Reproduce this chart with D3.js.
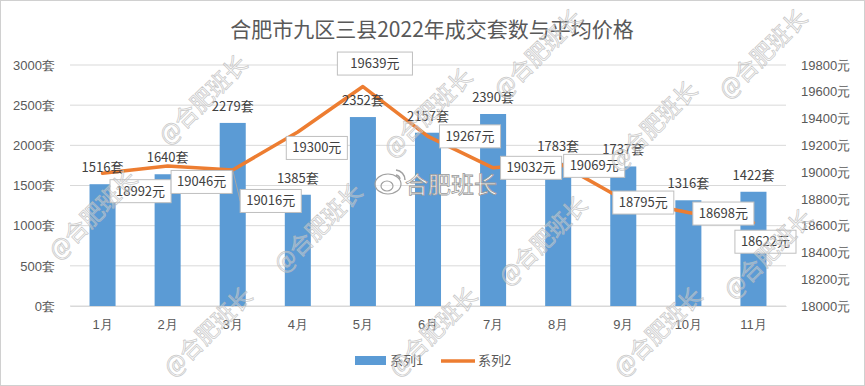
<!DOCTYPE html>
<html>
<head>
<meta charset="utf-8">
<script src="https://cdn.jsdelivr.net/npm/d3@7"></script>
<style>
  body { margin: 0; background: #fff; }
  svg { display: block; font-family: "Noto Sans CJK SC", "Noto Sans", sans-serif; }
</style>
</head>
<body>
<svg id="chart"></svg>
<script>
const months = ['1月', '2月', '3月', '4月', '5月', '6月', '7月', '8月', '9月', '10月', '11月'];
const deals = [1516, 1640, 2279, 1385, 2352, 2157, 2390, 1783, 1737, 1316, 1422];
const prices = [18992, 19046, 19016, 19300, 19639, 19267, 19032, 19069, 18795, 18698, 18622];
const leftTicks = [0, 500, 1000, 1500, 2000, 2500, 3000];
const rightTicks = [18000, 18200, 18400, 18600, 18800, 19000, 19200, 19400, 19600, 19800];
const seriesNames = ['系列1', '系列2'];
const title = '合肥市九区三县2022年成交套数与平均价格';

// where excel left each price label box (centre, relative to its point)
const priceLabelOffset = [[38, 18], [34, 16], [38, 31], [19, 16], [12, -23], [42, 0], [38, 0], [36, 3], [20, 3], [35, 1], [12, 19]];

const W = 865, H = 386;
const plot = { left: 70, right: 786, top: 65, bottom: 306 };

const svg = d3.select('#chart').attr('width', W).attr('height', H);

svg.append('rect')
  .attr('x', 0.5).attr('y', 0.5)
  .attr('width', W - 1).attr('height', H - 1)
  .attr('fill', '#fff').attr('stroke', '#d0d0d0');

const x = d3.scaleBand().domain(months).range([plot.left, plot.right]).paddingInner(0).paddingOuter(0);
const yL = d3.scaleLinear().domain([0, 3000]).range([plot.bottom, plot.top]);
const yR = d3.scaleLinear().domain([18000, 19800]).range([plot.bottom, plot.top]);
const cx = m => x(m) + x.bandwidth() / 2;
const barW = x.bandwidth() * 0.4;

// title
svg.append('text')
  .attr('x', 432).attr('y', 37)
  .attr('text-anchor', 'middle')
  .attr('font-size', 21)
  .attr('fill', '#595959')
  .text(title);

// gridlines
svg.append('g')
  .selectAll('line')
  .data(leftTicks)
  .join('line')
  .attr('x1', plot.left).attr('x2', plot.right)
  .attr('y1', d => yL(d)).attr('y2', d => yL(d))
  .attr('stroke', '#d9d9d9');

// left axis
const axL = svg.append('g')
  .attr('transform', `translate(${plot.left},0)`)
  .call(d3.axisLeft(yL).tickValues(leftTicks).tickSize(0).tickPadding(15).tickFormat(d => d + '套'));
axL.select('.domain').remove();
axL.selectAll('text').attr('font-size', 13).attr('fill', '#595959').attr('font-family', null);

// right axis
const axR = svg.append('g')
  .attr('transform', `translate(${plot.right},0)`)
  .call(d3.axisRight(yR).tickValues(rightTicks).tickSize(0).tickPadding(15).tickFormat(d => d + '元'));
axR.select('.domain').remove();
axR.selectAll('text').attr('font-size', 13).attr('fill', '#595959').attr('font-family', null);

// bottom axis
const axB = svg.append('g')
  .attr('transform', `translate(0,${plot.bottom})`)
  .call(d3.axisBottom(x).tickSize(0).tickPadding(14));
axB.select('.domain').attr('stroke', '#d9d9d9');
axB.selectAll('text').attr('font-size', 13).attr('fill', '#595959').attr('font-family', null);

// bars
svg.append('g')
  .selectAll('rect')
  .data(deals)
  .join('rect')
  .attr('x', (d, i) => cx(months[i]) - barW / 2)
  .attr('y', d => yL(d))
  .attr('width', barW)
  .attr('height', d => yL(0) - yL(d))
  .attr('fill', '#5B9BD5');

// price line
const pts = prices.map((p, i) => [cx(months[i]), yR(p)]);
svg.append('path')
  .attr('d', d3.line()(pts))
  .attr('fill', 'none')
  .attr('stroke', '#ED7D31')
  .attr('stroke-width', 3.5)
  .attr('stroke-linejoin', 'round')
  .attr('stroke-linecap', 'round');

// bar labels
svg.append('g')
  .selectAll('text')
  .data(deals)
  .join('text')
  .attr('x', (d, i) => cx(months[i]))
  .attr('y', d => yL(d) - 12)
  .attr('text-anchor', 'middle')
  .attr('font-size', 13)
  .attr('fill', '#404040')
  .text(d => d + '套');

// price labels in boxes
const lblG = svg.append('g');
prices.forEach((p, i) => {
  const [px, py] = pts[i];
  const bx = px + priceLabelOffset[i][0];
  const by = py + priceLabelOffset[i][1];
  const g = lblG.append('g');
  const box = g.append('rect');
  const t = g.append('text')
    .attr('x', bx).attr('y', by + 4.5)
    .attr('text-anchor', 'middle')
    .attr('font-size', 13)
    .attr('fill', '#404040')
    .text(p + '元');
  const tw = t.node().getComputedTextLength();
  const bw = tw + (i === 4 ? 26 : 12), bh = 23;
  box.attr('x', bx - bw / 2).attr('y', by - bh / 2)
    .attr('width', bw).attr('height', bh)
    .attr('fill', '#fff').attr('stroke', '#bfbfbf');
  // leader line when the box sits away from its point
  const mids = [[bx, by - bh / 2], [bx, by + bh / 2], [bx - bw / 2, by], [bx + bw / 2, by]];
  const nx = Math.max(bx - bw / 2, Math.min(px, bx + bw / 2));
  const ny = Math.max(by - bh / 2, Math.min(py, by + bh / 2));
  if (Math.hypot(nx - px, ny - py) > 12) {
    const m = d3.least(mids, q => Math.hypot(q[0] - px, q[1] - py));
    g.insert('line', 'rect')
      .attr('x1', px).attr('y1', py).attr('x2', m[0]).attr('y2', m[1])
      .attr('stroke', '#a6a6a6');
  }
});

// legend
const leg = svg.append('g');
leg.append('rect').attr('x', 355).attr('y', 356).attr('width', 31).attr('height', 9).attr('fill', '#5B9BD5');
leg.append('text').attr('x', 390).attr('y', 365).attr('font-size', 13).attr('fill', '#595959').text(seriesNames[0]);
leg.append('line').attr('x1', 441).attr('x2', 475).attr('y1', 361).attr('y2', 361)
  .attr('stroke', '#ED7D31').attr('stroke-width', 3.5);
leg.append('text').attr('x', 478).attr('y', 365).attr('font-size', 13).attr('fill', '#595959').text(seriesNames[1]);

// watermarks, kept inside the frame
const wm = svg.append('g').attr('pointer-events', 'none');
for (let j = -1; j <= 2; j++) {
  for (let i = -1; i <= 4; i++) {
    const wx = 203 + i * 225 - j * 110;
    let wy = 100 + i * 13 + j * 115;
    if (wx < 52 || wx > 812 || wy < -10 || wy > 390) continue;
    wy = Math.max(54, Math.min(332, wy));
    wm.append('text')
      .attr('transform', `translate(${wx},${wy}) rotate(-45)`)
      .attr('text-anchor', 'middle')
      .attr('dy', '0.35em')
      .attr('font-size', 23)
      .attr('fill', '#fff').attr('fill-opacity', 0.3)
      .attr('stroke', '#b8b8b8').attr('stroke-opacity', 0.75).attr('stroke-width', 0.8)
      .text('@合肥班长');
  }
}
// weibo mark in the middle
const wb = svg.append('g').attr('transform', 'translate(388,184)');
wb.append('ellipse').attr('rx', 13).attr('ry', 10).attr('fill', '#fff').attr('fill-opacity', 0.6).attr('stroke', '#a0a0a0').attr('stroke-width', 1.2);
wb.append('ellipse').attr('cx', -1).attr('cy', 2).attr('rx', 6).attr('ry', 5).attr('fill', 'none').attr('stroke', '#a0a0a0').attr('stroke-width', 1.2);
wb.append('path').attr('d', 'M8,-14 A10,10 0 0 1 17,-4').attr('fill', 'none').attr('stroke', '#a0a0a0').attr('stroke-width', 1.5);
wb.append('path').attr('d', 'M8,-9 A5,5 0 0 1 12,-5').attr('fill', 'none').attr('stroke', '#a0a0a0').attr('stroke-width', 1.5);
svg.append('text')
  .attr('x', 405).attr('y', 193)
  .attr('font-size', 23)
  .attr('fill', '#fff')
  .attr('stroke', '#9a9a9a').attr('stroke-width', 0.8)
  .text('合肥班长');
</script>
</body>
</html>
